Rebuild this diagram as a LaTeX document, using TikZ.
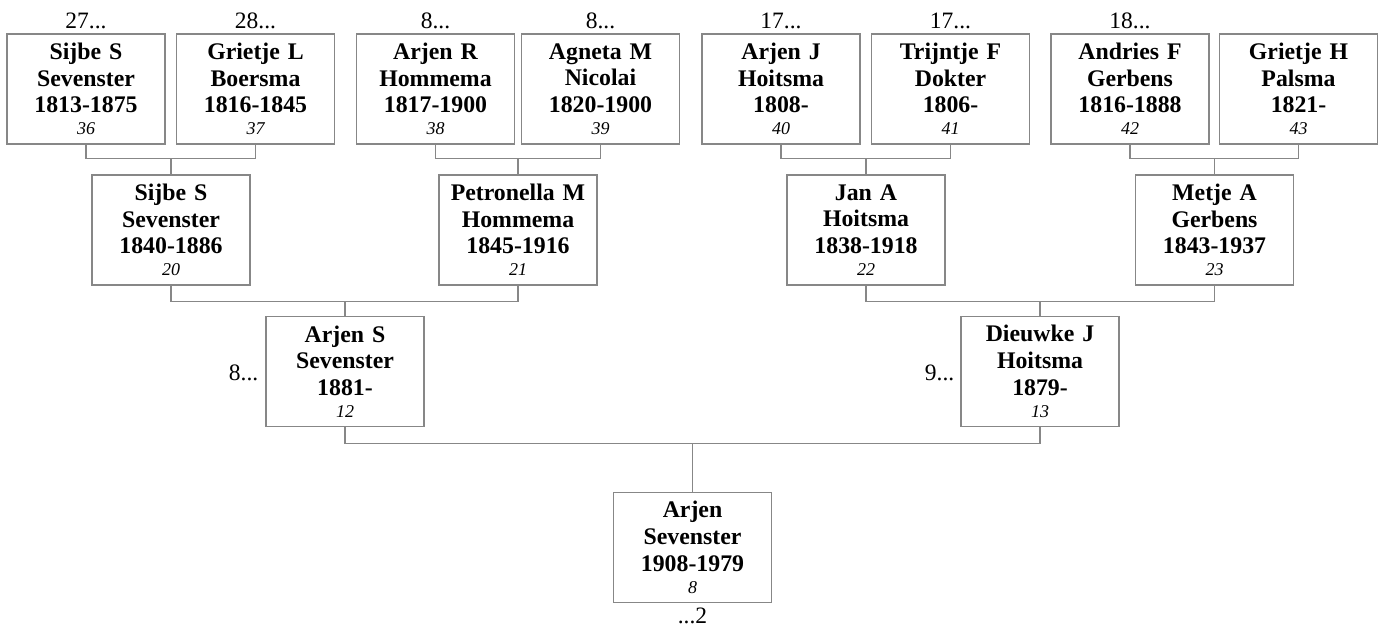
\documentclass[tikz,border=0pt]{standalone}
\usepackage{fontspec}
\setmainfont{Liberation Serif}
\definecolor{boxgray}{RGB}{135,135,135}
\newcommand{\pers}[4]{#1\\#2\\#3\\[-4.7pt]{\fontsize{18}{22}\selectfont\mdseries\itshape #4}}
\begin{document}
\begin{tikzpicture}[x=1pt,y=-1pt,
  person/.style={draw=boxgray, line width=1.1pt, minimum width=158pt, minimum height=110pt,
    text width=152pt, align=center, inner sep=0pt, fill=white,
    font=\fontsize{23.8}{26.7}\selectfont\bfseries},
  lbl/.style={inner sep=0pt, font=\fontsize{23.5}{26}\selectfont},
  conn/.style={draw=boxgray, line width=1.1pt}]
\useasboundingbox (0,0) rectangle (1380,628);
% generation 1
\node[person] (p36) at (86,89) {\pers{Sijbe S}{Sevenster}{1813-1875}{36}};
\node[person] (p37) at (255.5,89) {\pers{Grietje L}{Boersma}{1816-1845}{37}};
\node[person] (p38) at (435.5,89) {\pers{Arjen R}{Hommema}{1817-1900}{38}};
\node[person] (p39) at (600.5,89) {\pers{Agneta M}{Nicolai}{1820-1900}{39}};
\node[person] (p40) at (781,89) {\pers{Arjen J}{Hoitsma}{1808-}{40}};
\node[person] (p41) at (950.5,89) {\pers{Trijntje F}{Dokter}{1806-}{41}};
\node[person] (p42) at (1130,89) {\pers{Andries F}{Gerbens}{1816-1888}{42}};
\node[person] (p43) at (1298.5,89) {\pers{Grietje H}{Palsma}{1821-}{43}};
% generation 2
\node[person] (p20) at (171,230) {\pers{Sijbe S}{Sevenster}{1840-1886}{20}};
\node[person] (p21) at (518,230) {\pers{Petronella M}{Hommema}{1845-1916}{21}};
\node[person] (p22) at (866,230) {\pers{Jan A}{Hoitsma}{1838-1918}{22}};
\node[person] (p23) at (1214.5,230) {\pers{Metje A}{Gerbens}{1843-1937}{23}};
% generation 3
\node[person] (p12) at (345,371.5) {\pers{Arjen S}{Sevenster}{1881-}{12}};
\node[person] (p13) at (1040,371.5) {\pers{Dieuwke J}{Hoitsma}{1879-}{13}};
% generation 4
\node[person] (p8) at (692.5,547.5) {\pers{Arjen}{Sevenster}{1908-1979}{8}};
% labels
\node[lbl, anchor=base] (l36) at ([yshift=5pt]p36.north) {27...};
\node[lbl, anchor=base] (l37) at ([yshift=5pt]p37.north) {28...};
\node[lbl, anchor=base] (l38) at ([yshift=5pt]p38.north) {8...};
\node[lbl, anchor=base] (l39) at ([yshift=5pt]p39.north) {8...};
\node[lbl, anchor=base] (l40) at ([yshift=5pt]p40.north) {17...};
\node[lbl, anchor=base] (l41) at ([yshift=5pt]p41.north) {17...};
\node[lbl, anchor=base] (l42) at ([yshift=5pt]p42.north) {18...};
\node[lbl, anchor=base east] (l12) at ([xshift=-7pt,yshift=-8.5pt]p12.west) {8...};
\node[lbl, anchor=base east] (l13) at ([xshift=-6pt,yshift=-8.5pt]p13.west) {9...};
\node[lbl, anchor=base] (l8) at ([yshift=-20.5pt]p8.south) {...2};
% connectors
\draw[conn] (p36.south) -- ++(0,14) coordinate (b1) -| (p37.south);
\draw[conn] (p20.north) -- (p20.north |- b1);
\draw[conn] (p38.south) -- ++(0,14) coordinate (b2) -| (p39.south);
\draw[conn] (p21.north) -- (p21.north |- b2);
\draw[conn] (p40.south) -- ++(0,14) coordinate (b3) -| (p41.south);
\draw[conn] (p22.north) -- (p22.north |- b3);
\draw[conn] (p42.south) -- ++(0,14) coordinate (b4) -| (p43.south);
\draw[conn] (p23.north) -- (p23.north |- b4);
\draw[conn] (p20.south) -- ++(0,16) coordinate (b5) -| (p21.south);
\draw[conn] (p12.north) -- (p12.north |- b5);
\draw[conn] (p22.south) -- ++(0,16) coordinate (b6) -| (p23.south);
\draw[conn] (p13.north) -- (p13.north |- b6);
\draw[conn] (p12.south) -- ++(0,16) coordinate (b7) -| (p13.south);
\draw[conn] (p8.north) -- (p8.north |- b7);
\end{tikzpicture}
\end{document}
